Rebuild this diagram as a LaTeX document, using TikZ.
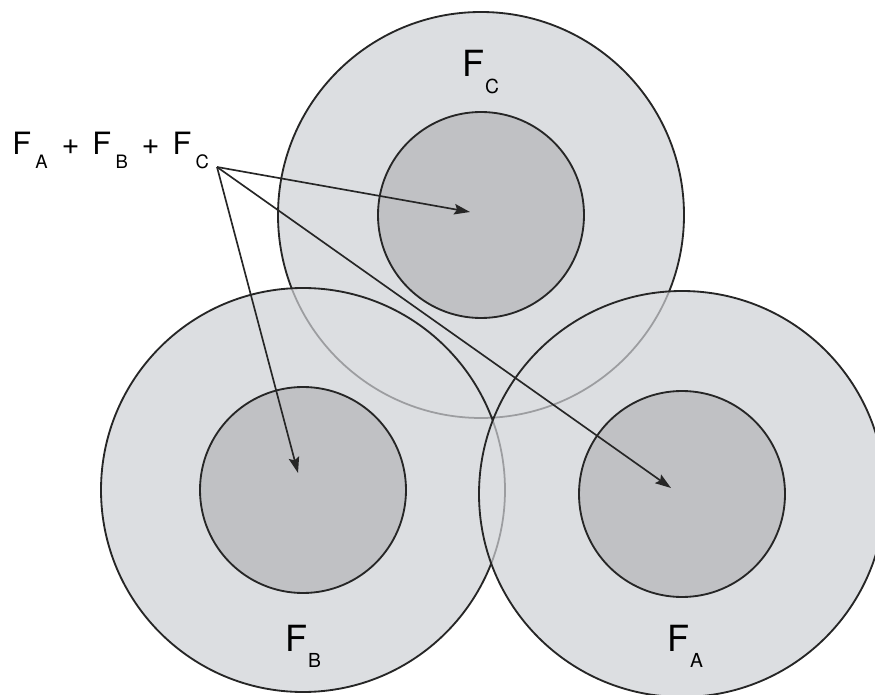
\documentclass[tikz,border=0pt]{standalone}
\usepackage{fontspec}
\setmainfont{TeX Gyre Heros}
\usetikzlibrary{arrows.meta}

\definecolor{ringfill}{HTML}{DCDEE1}
\definecolor{corefill}{HTML}{C0C1C4}
\definecolor{hiddenline}{HTML}{9C9DA0}
\newcommand{\Fsub}[3]{F\kern#3\raisebox{-0.45em}{\fontsize{#1}{#1}\selectfont #2}}

\begin{document}
\begin{tikzpicture}[x=0.02cm, y=-0.02cm,
    rim/.style={draw=black!85, line width=1.05pt},
    hiddenrim/.style={draw=hiddenline, line width=1pt},
    pointer/.style={-{Stealth[length=9pt,width=6pt,inset=1.5pt]}, line width=0.95pt, black!85}]
    \useasboundingbox (0,0) rectangle (875,695);
    \coordinate (cC) at (481,215);
    \coordinate (cB) at (303,490);
    \coordinate (cA) at (682,494);
    \begin{scope}
    \clip (0,0) rectangle (875,695);
    % ring C (bottom)
    \fill[ringfill] (cC) circle [radius=203];
    \draw[rim] (cC) circle [radius=203];
    \draw[rim, fill=corefill] (cC) circle [radius=103];
    % ring B over C
    \fill[ringfill] (cB) circle [radius=202];
    \begin{scope}
        \clip (cB) circle [radius=202];
        \draw[hiddenrim] (cC) circle [radius=203];
    \end{scope}
    \draw[rim] (cB) circle [radius=202];
    \draw[rim, fill=corefill] (cB) circle [radius=103];
    % ring A on top
    \fill[ringfill] (cA) circle [radius=203];
    \begin{scope}
        \clip (cA) circle [radius=203];
        \draw[hiddenrim] (cC) circle [radius=203];
        \draw[hiddenrim] (cB) circle [radius=202];
    \end{scope}
    \draw[rim] (cA) circle [radius=203];
    \draw[rim, fill=corefill] (cA) circle [radius=103];
    \end{scope}

    \node[anchor=base west, inner sep=0, font=\fontsize{17.5}{20}\selectfont] (sum) at (12,155)
        {\Fsub{10.5}{A}{0.14em}\hspace{0.45em}+\hspace{0.42em}\Fsub{10.5}{B}{0.14em}\hspace{0.45em}+\hspace{0.42em}\Fsub{10.5}{C}{0.14em}};
    \node[anchor=base west, inner sep=0, font=\fontsize{20.5}{24}\selectfont] (labC) at (462,77) {\Fsub{11}{C}{0.02em}};
    \node[anchor=base west, inner sep=0, font=\fontsize{20.5}{24}\selectfont] (labB) at (285,651) {\Fsub{11}{B}{0.02em}};
    \node[anchor=base west, inner sep=0, font=\fontsize{20.5}{24}\selectfont] (labA) at (667,651) {\Fsub{11}{A}{0.02em}};

    \coordinate (src) at (217,167);
    \coordinate (tipC) at (470,212);
    \coordinate (tipB) at (298,473);
    \coordinate (tipA) at (671,488);
    \draw[pointer] (src) -- (tipC);
    \draw[pointer] (src) -- (tipB);
    \draw[pointer] (src) -- (tipA);
\end{tikzpicture}
\end{document}
